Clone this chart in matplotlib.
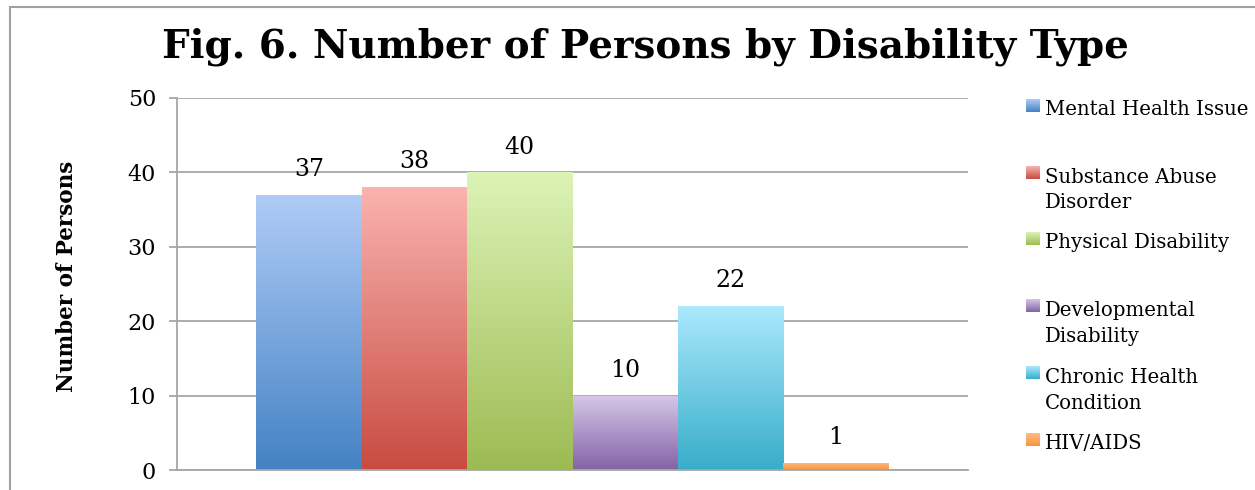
import matplotlib
matplotlib.use("Agg")
import matplotlib.pyplot as plt
import numpy as np
from matplotlib.colors import to_rgb
from matplotlib.patches import Rectangle

plt.rcParams.update({
    'font.family': 'DejaVu Serif',
    'font.size': 14,
})

# data
categories = ['Mental Health Issue', 'Substance Abuse\nDisorder',
              'Physical Disability', 'Developmental\nDisability',
              'Chronic Health\nCondition', 'HIV/AIDS']
counts = [37, 38, 40, 10, 22, 1]
top_colors = ['#B0CCF7', '#FAB3B0', '#DCF3B6', '#D6C7E9', '#ABE9FD', '#FDBE88']
bottom_colors = ['#4482C4', '#C84B41', '#9DBB53', '#8463A6', '#38ADCA', '#F7933C']
yticks = [0, 10, 20, 30, 40, 50]

W, H = 1255, 490
GRID = '#A6A6A6'
LINE_GAP = 26.7  # px between legend text lines


def gradient(top, bottom, n=256):
    t = np.linspace(0, 1, n)[:, None, None]
    return (1 - t) * np.array(to_rgb(top)) + t * np.array(to_rgb(bottom))


fig = plt.figure(figsize=(W / 100, H / 100), dpi=100)
ax = fig.add_axes([177 / W, 1 - 470 / H, (968 - 177) / W, (470 - 98) / H])

x = np.arange(len(counts))
bars = ax.bar(x, counts, width=1.0, facecolor='none', edgecolor='none', zorder=3)
for rect, top, bot in zip(bars, top_colors, bottom_colors):
    x0, y0 = rect.get_x(), rect.get_y()
    im = ax.imshow(gradient(top, bot), extent=(x0, x0 + rect.get_width(), y0, y0 + rect.get_height()),
                   origin='upper', aspect='auto', zorder=2, interpolation='bilinear')
    im.set_clip_path(rect)

ax.bar_label(bars, padding=10, fontsize=17)

# manual legend, first-line baselines evenly spaced
for i, (lab, top, bot) in enumerate(zip(categories, top_colors, bottom_colors)):
    base = 115 + 66.7 * i
    nlines = lab.count('\n') + 1
    # va='baseline' sits on the last line, so push multi-line labels down
    fig.text(1045 / W, 1 - (base + LINE_GAP * (nlines - 1)) / H, lab,
             ha='left', va='baseline', fontsize=14.2, linespacing=1.46)
    fx0, fy0 = 1026 / W, 1 - (base - 3) / H
    fw, fh = 14 / W, 13 / H
    box = Rectangle((fx0, fy0), fw, fh, transform=fig.transFigure,
                    facecolor='none', edgecolor='none')
    fig.add_artist(box)
    ax.imshow(gradient(top, bot), extent=(fx0, fx0 + fw, fy0, fy0 + fh),
              transform=fig.transFigure, origin='upper', aspect='auto',
              clip_on=False, interpolation='bilinear')

ax.set_xlim(-1.25, len(counts) - 1 + 1.25)
ax.set_ylim(0, 50)
ax.set_yticks(yticks)
ax.set_xticks([])
ax.yaxis.grid(True, color=GRID, lw=1.3)
ax.set_axisbelow(True)
for s in ['top', 'right']:
    ax.spines[s].set_visible(False)
for s in ['left', 'bottom']:
    ax.spines[s].set_color(GRID)
    ax.spines[s].set_linewidth(1.3)
ax.tick_params(axis='y', length=6, width=1.3, color=GRID, pad=9, labelsize=16)

fig.text(645 / W, 1 - 58 / H, 'Fig. 6. Number of Persons by Disability Type',
         ha='center', va='baseline', fontsize=28, fontweight='bold')
fig.text(67 / W, 1 - 276 / H, 'Number of Persons', rotation=90,
         ha='center', va='center', fontsize=15.5, fontweight='bold')

# outer chart border (runs off the right and bottom edges)
fig.add_artist(Rectangle((10 / W, -0.5), 2, 1.5 - 7 / H, transform=fig.transFigure,
                         fill=False, edgecolor='#A0A0A0', lw=1.5))

fig.savefig('out.png', dpi=100)
